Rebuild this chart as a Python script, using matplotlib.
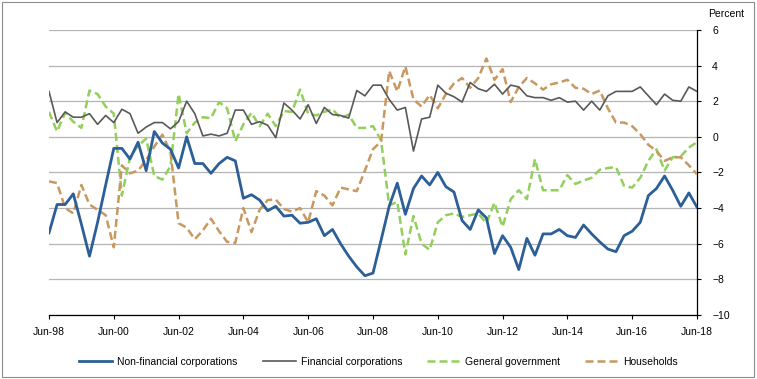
import numpy as np
import pandas as pd
import matplotlib
matplotlib.use('Agg')
import matplotlib.pyplot as plt
from matplotlib.patches import Rectangle

plt.rcParams['font.family'] = ['Liberation Sans Narrow', 'Liberation Sans', 'DejaVu Sans']

# ── quarterly periods Jun-98 .. Jun-18 ─────────────
quarters = pd.period_range('1998Q2', '2018Q2', freq='Q')
tick_labels = ['Jun-98', 'Jun-00', 'Jun-02', 'Jun-04', 'Jun-06', 'Jun-08',
               'Jun-10', 'Jun-12', 'Jun-14', 'Jun-16', 'Jun-18']

non_financial = [
    -5.4, -3.8, -3.8, -3.2, -4.9, -6.7, -4.8, -2.7, -0.65, -0.65,
    -1.25, -0.3, -1.9, 0.3, -0.35, -0.7, -1.75, 0.0, -1.5, -1.5,
    -2.05, -1.5, -1.15, -1.35, -3.45, -3.25, -3.55, -4.15, -3.9, -4.45,
    -4.4, -4.85, -4.8, -4.6, -5.55, -5.2, -6.0, -6.7, -7.3, -7.8,
    -7.65, -5.8, -3.9, -2.6, -4.35, -2.9, -2.2, -2.7, -2.0, -2.8,
    -3.1, -4.7, -5.2, -4.1, -4.55, -6.55, -5.55, -6.2, -7.45, -5.7,
    -6.65, -5.45, -5.45, -5.2, -5.55, -5.65, -4.95, -5.45, -5.9, -6.3,
    -6.45, -5.55, -5.3, -4.8, -3.3, -2.9, -2.2, -3.0, -3.9, -3.15,
    -3.95,
]
financial = [
    2.55, 0.8, 1.4, 1.1, 1.1, 1.3, 0.7, 1.2, 0.8, 1.55,
    1.3, 0.2, 0.55, 0.8, 0.8, 0.45, 0.85, 2.0, 1.3, 0.05,
    0.15, 0.05, 0.2, 1.5, 1.5, 0.7, 0.85, 0.65, -0.05, 1.9,
    1.5, 1.0, 1.8, 0.75, 1.65, 1.25, 1.2, 1.05, 2.6, 2.3,
    2.9, 2.9, 2.1, 1.5, 1.65, -0.8, 1.0, 1.1, 2.9, 2.45,
    2.25, 1.95, 3.05, 2.7, 2.55, 2.95, 2.4, 2.9, 2.8, 2.3,
    2.2, 2.2, 2.05, 2.2, 1.95, 2.0, 1.5, 2.0, 1.5, 2.3,
    2.55, 2.55, 2.55, 2.8, 2.3, 1.8, 2.4, 2.05, 2.0, 2.8,
    2.55,
]
general_gov = [
    1.4, 0.3, 1.35, 0.85, 0.5, 2.6, 2.4, 1.7, 1.3, -3.3,
    -1.15, -0.5, -0.1, -2.2, -2.4, -1.65, 2.4, 0.2, 0.8, 1.1,
    1.05, 1.95, 1.6, -0.25, 0.7, 1.35, 0.6, 1.3, 0.6, 1.45,
    1.4, 2.65, 1.3, 1.2, 1.4, 1.55, 1.05, 1.25, 0.5, 0.5,
    0.6, -0.2, -3.85, -3.65, -6.6, -4.45, -6.0, -6.35, -4.8, -4.4,
    -4.3, -4.5, -4.4, -4.3, -4.85, -3.7, -5.05, -3.5, -3.0, -3.5,
    -1.25, -3.0, -3.0, -3.0, -2.15, -2.65, -2.45, -2.3, -1.85, -1.75,
    -1.7, -2.75, -2.85, -2.3, -1.35, -0.7, -1.9, -1.15, -1.1, -0.6,
    -0.3,
]
households = [
    -2.5, -2.6, -4.0, -4.3, -2.7, -3.8, -4.1, -4.4, -6.2, -1.6,
    -2.05, -1.9, -1.3, -0.55, 0.12, -0.85, -4.85, -5.1, -5.75, -5.25,
    -4.6, -5.3, -5.9, -5.95, -4.0, -5.35, -4.1, -3.55, -3.52, -4.05,
    -4.2, -4.0, -4.8, -3.05, -3.3, -3.85, -2.85, -2.95, -3.05, -1.9,
    -0.7, -0.25, 3.7, 2.55, 3.95, 2.1, 1.7, 2.35, 1.6, 2.4,
    3.0, 3.3, 2.75, 3.3, 4.4, 3.2, 3.8, 1.95, 2.8, 3.3,
    3.0, 2.65, 2.95, 3.05, 3.2, 2.75, 2.7, 2.4, 2.6, 1.6,
    0.8, 0.8, 0.6, 0.15, -0.45, -0.8, -1.35, -1.15, -1.15, -1.6,
    -2.1,
]

x = np.arange(len(quarters))

fig = plt.figure(figsize=(7.57, 3.79), dpi=100)
ax = fig.add_axes([0.0647, 0.169, 0.856, 0.752])

ax.plot(x, non_financial, color='#2c5f98', lw=2.0, label='Non-financial corporations', zorder=5)
ax.plot(x, financial, color='#595959', lw=1.2, label='Financial corporations', zorder=4)
ax.plot(x, general_gov, color='#92cf5c', lw=1.8, dashes=(3.2, 1.6), label='General government', zorder=3)
ax.plot(x, households, color='#c9985f', lw=1.8, dashes=(3.2, 1.6), label='Households', zorder=3)

ax.set_xlim(0, len(x) - 1)
ax.set_ylim(-10, 6)
ax.set_yticks(np.arange(-10, 7, 2))
ax.set_xticks(x[::8])
ax.set_xticklabels(tick_labels)
ax.yaxis.tick_right()
ax.grid(axis='y', color='#b4b4b4', lw=0.9)
ax.set_axisbelow(True)

for s in ['left', 'top']:
    ax.spines[s].set_visible(False)
for s in ['right', 'bottom']:
    ax.spines[s].set_color('black')
    ax.spines[s].set_linewidth(0.9)
ax.tick_params(axis='both', labelsize=7.5, length=3, width=0.8, direction='out', pad=6)
ax.tick_params(axis='y', pad=8)

fig.text(0.935, 0.962, 'Percent', fontsize=7.5, ha='left', va='center')

ax.legend(loc='upper center', bbox_to_anchor=(0.5085, -0.115), ncol=4, frameon=False,
          fontsize=7.5, handlelength=3.2, columnspacing=2.4, handletextpad=0.45)

fig.patches.append(Rectangle((0.002, 0.006), 0.994, 0.99, transform=fig.transFigure,
                             fill=False, edgecolor='#8c8c8c', lw=0.8))

fig.savefig('out.png', dpi=100)
